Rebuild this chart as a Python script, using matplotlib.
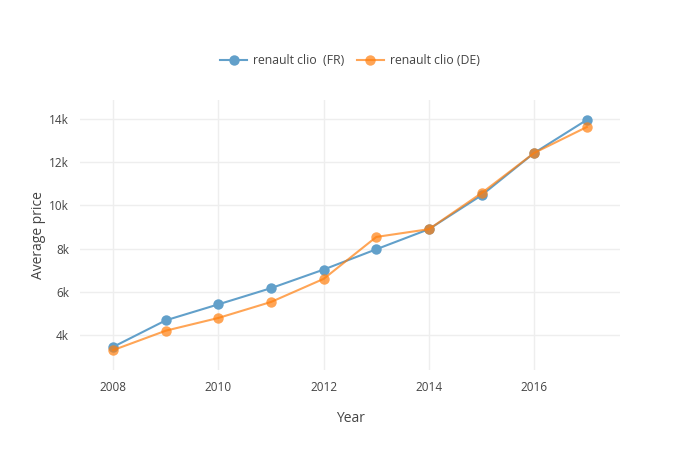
import matplotlib.pyplot as plt
from matplotlib.ticker import FuncFormatter

plt.rcParams['font.family'] = ['Open Sans', 'DejaVu Sans']

years = [2008, 2009, 2010, 2011, 2012, 2013, 2014, 2015, 2016, 2017]
price_fr = [3450, 4680, 5420, 6170, 7030, 7970, 8900, 10470, 12430, 13960]
price_de = [3300, 4200, 4790, 5530, 6600, 8540, 8900, 10570, 12430, 13630]

fig = plt.figure(figsize=(7, 4.5), dpi=100)
ax = fig.add_axes([80 / 700, 80 / 450, 540 / 700, 270 / 450])

# blue sits at the bottom, so a flat colour equals 0.7 opacity over white
ax.plot(years, price_fr, color='#62a0ca', linewidth=1.5,
        marker='o', markersize=7.5, markeredgewidth=0, label='renault clio  (FR)')
ax.plot(years, price_de, color='#ff7f0e', alpha=0.7, linewidth=1.5,
        marker='o', markersize=7.5, markeredgewidth=0, label='renault clio (DE)')

ax.set_xlim(2007.37, 2017.63)
ax.set_ylim(2380, 14880)
ax.set_xticks([2008, 2010, 2012, 2014, 2016])
ax.set_yticks([4000, 6000, 8000, 10000, 12000, 14000])
ax.yaxis.set_major_formatter(FuncFormatter(lambda v, p: '%dk' % (v / 1000)))

ax.grid(True, color='#eeeeee', linewidth=1)
ax.set_axisbelow(True)
for s in ax.spines.values():
    s.set_visible(False)
ax.tick_params(length=0, labelsize=8.5, labelcolor='#444444', pad=8)

ax.set_xlabel('Year', fontsize=10, color='#444444', labelpad=12)
ax.set_ylabel('Average price', fontsize=10, color='#444444', labelpad=2)

fig.legend(loc='center', bbox_to_anchor=(0.5, 1 - 61 / 450), ncol=2,
           frameon=False, fontsize=8.8, labelcolor='#444444',
           handlelength=2.2, columnspacing=1.0, handletextpad=0.5)

fig.savefig('out.png', dpi=100)
